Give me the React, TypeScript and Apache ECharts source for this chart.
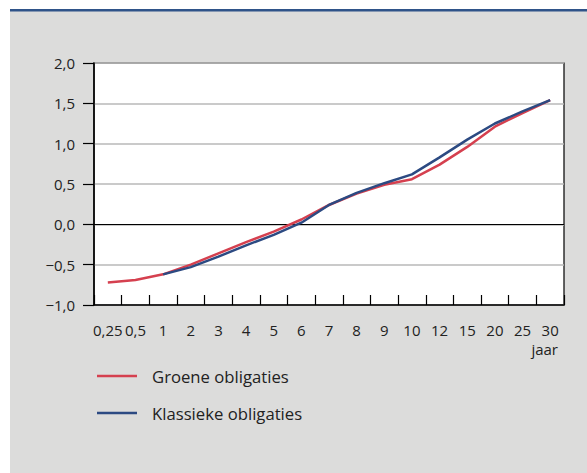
import React, { useEffect, useRef } from "react";
import * as echarts from "echarts";

const categories = ["0,25", "0,5", "1", "2", "3", "4", "5", "6", "7", "8", "9", "10", "12", "15", "20", "25", "30"];
const groeneValues = [-0.72, -0.69, -0.62, -0.5, -0.36, -0.22, -0.09, 0.06, 0.24, 0.38, 0.49, 0.56, 0.74, 0.96, 1.21, 1.38, 1.54];
const klassiekeValues = [null, null, -0.62, -0.53, -0.4, -0.26, -0.13, 0.02, 0.24, 0.39, 0.51, 0.62, 0.83, 1.05, 1.25, 1.4, 1.54];
const seriesNames = ["Groene obligaties", "Klassieke obligaties"];
const unitLabel = "jaar";

const RED = "#d5404f";
const BLUE = "#2c4a82";
const FONT = "'Open Sans', 'Noto Sans', sans-serif";

export default function App() {
  const ref = useRef<HTMLDivElement>(null);
  useEffect(() => {
    if (!ref.current) return;
    const chart = echarts.init(ref.current, undefined, { renderer: "svg" });
    chart.setOption({
      animation: false,
      backgroundColor: "#ffffff",
      textStyle: { fontFamily: FONT },
      graphic: [
        { type: "rect", z: -10, shape: { x: 10, y: 10, width: 577, height: 463 }, style: { fill: "#dcdcdb" } },
        { type: "rect", z: -9, shape: { x: 10, y: 9, width: 577, height: 2.5 }, style: { fill: "#2f5389" } },
        {
          type: "text",
          x: 558,
          y: 349,
          style: { text: unitLabel, fill: "#222", font: "15px " + FONT, textAlign: "right", textVerticalAlign: "middle" },
        },
        { type: "line", shape: { x1: 97, y1: 376, x2: 137, y2: 376 }, style: { stroke: RED, lineWidth: 2.5 } },
        {
          type: "text",
          x: 152,
          y: 376,
          style: { text: seriesNames[0], fill: "#222", font: "16.7px " + FONT, textVerticalAlign: "middle" },
        },
        { type: "line", shape: { x1: 97, y1: 413, x2: 137, y2: 413 }, style: { stroke: BLUE, lineWidth: 2.5 } },
        {
          type: "text",
          x: 152,
          y: 413,
          style: { text: seriesNames[1], fill: "#222", font: "16.7px " + FONT, textVerticalAlign: "middle" },
        },
      ],
      grid: {
        left: 94,
        top: 63,
        right: 23,
        bottom: 168,
        show: true,
        backgroundColor: "#ffffff",
        borderColor: "#000",
        borderWidth: 1.2,
      },
      xAxis: {
        type: "category",
        data: categories,
        boundaryGap: true,
        axisLine: { onZero: false, lineStyle: { color: "#000", width: 1.5 } },
        axisTick: { show: true, inside: true, length: 10, lineStyle: { color: "#000", width: 1.2 } },
        axisLabel: { interval: 0, color: "#222", fontSize: 15, margin: 17, fontFamily: FONT },
        splitLine: { show: false },
      },
      yAxis: {
        type: "value",
        min: -1,
        max: 2,
        interval: 0.5,
        axisLine: { show: true, onZero: false, lineStyle: { color: "#000", width: 1.5 } },
        axisTick: { show: true, inside: false, length: 11, lineStyle: { color: "#000", width: 1.2 } },
        axisLabel: {
          color: "#222",
          fontSize: 15,
          margin: 19,
          fontFamily: FONT,
          formatter: (v: number) => v.toFixed(1).replace(".", ",").replace("-", "\u2212"),
        },
        splitLine: { show: true, lineStyle: { color: "#b8b8b8", width: 1.5 } },
      },
      series: [
        {
          name: seriesNames[0],
          type: "line",
          data: groeneValues,
          symbol: "none",
          lineStyle: { color: RED, width: 2.5 },
          itemStyle: { color: RED },
          z: 3,
          markLine: {
            silent: true,
            symbol: "none",
            label: { show: false },
            lineStyle: { color: "#000", width: 1.2, type: "solid" },
            data: [{ yAxis: 0 }],
            z: 1,
          },
        },
        {
          name: seriesNames[1],
          type: "line",
          data: klassiekeValues,
          symbol: "none",
          connectNulls: false,
          lineStyle: { color: BLUE, width: 2.5 },
          itemStyle: { color: BLUE },
          z: 4,
        },
      ],
    });
    return () => chart.dispose();
  }, []);
  return <div ref={ref} style={{ position: "absolute", left: 0, top: 0, width: 587, height: 473 }} />;
}
